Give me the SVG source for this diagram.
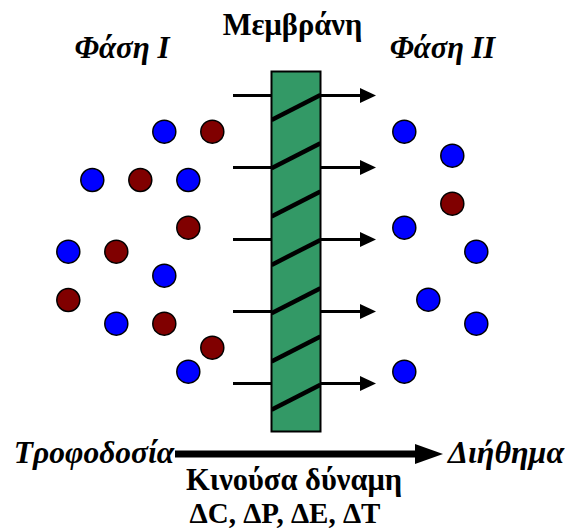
<svg xmlns="http://www.w3.org/2000/svg" width="565" height="530" viewBox="0 0 565 530">
<style>
.b{fill:#0000ff;stroke:#000;stroke-width:1.5}
.r{fill:#800000;stroke:#000;stroke-width:1.5}
.flow{stroke:#000;stroke-width:3;fill:none}
.stripe{stroke:#000;stroke-width:4.5}
text{font-family:"Liberation Serif","Times New Roman",serif;font-weight:bold;fill:#000;text-anchor:middle}
.i{font-style:italic}
</style>
<defs>
<clipPath id="mclip"><rect x="271.5" y="71.5" width="49" height="360"/></clipPath>
</defs>
<g id="labels">
<text x="292.5" y="35" font-size="30.5">Μεμβράνη</text>
<text class="i" x="122" y="58" font-size="31">Φάση Ι</text>
<text class="i" x="442.5" y="58" font-size="30.5">Φάση ΙΙ</text>
<text class="i" x="94" y="463" font-size="31.5">Τροφοδοσία</text>
<text class="i" x="506" y="463" font-size="32">Διήθημα</text>
<text x="294" y="490" font-size="30.5">Κινούσα δύναμη</text>
<text x="285" y="523" font-size="29">ΔC, ΔP, ΔE, ΔT</text>
</g>
<g id="connectors">
<line class="flow" x1="233" y1="95.5" x2="362" y2="95.5"/>
<line class="flow" x1="233" y1="167.5" x2="362" y2="167.5"/>
<line class="flow" x1="233" y1="239.5" x2="362" y2="239.5"/>
<line class="flow" x1="233" y1="311.5" x2="362" y2="311.5"/>
<line class="flow" x1="233" y1="383.5" x2="362" y2="383.5"/>
<polygon points="360,88 376,95.5 360,103"/>
<polygon points="360,160 376,167.5 360,175"/>
<polygon points="360,232 376,239.5 360,247"/>
<polygon points="360,304 376,311.5 360,319"/>
<polygon points="360,376 376,383.5 360,391"/>
<line x1="175" y1="454" x2="418" y2="454" stroke="#000" stroke-width="7"/>
<polygon points="415,444 443,454 415,464"/>
</g>
<g id="membrane">
<rect x="271.5" y="71.5" width="49" height="360" fill="#339966" stroke="none"/>
<g clip-path="url(#mclip)">
<line class="stripe" x1="271.5" y1="120" x2="320.5" y2="95"/>
<line class="stripe" x1="271.5" y1="168.3" x2="320.5" y2="143.3"/>
<line class="stripe" x1="271.5" y1="216.6" x2="320.5" y2="191.6"/>
<line class="stripe" x1="271.5" y1="264.9" x2="320.5" y2="239.9"/>
<line class="stripe" x1="271.5" y1="313.2" x2="320.5" y2="288.2"/>
<line class="stripe" x1="271.5" y1="361.5" x2="320.5" y2="336.5"/>
<line class="stripe" x1="271.5" y1="409.8" x2="320.5" y2="384.8"/>
</g>
<rect x="271.5" y="71.5" width="49" height="360" fill="none" stroke="#000" stroke-width="2"/>
</g>
<g id="phase1">
<circle class="b" cx="164.3" cy="131.7" r="11.5"/>
<circle class="r" cx="212.3" cy="131.7" r="11.5"/>
<circle class="b" cx="92.3" cy="180" r="11.5"/>
<circle class="r" cx="140.3" cy="180" r="11.5"/>
<circle class="b" cx="188.3" cy="180" r="11.5"/>
<circle class="r" cx="188.3" cy="227.7" r="11.5"/>
<circle class="b" cx="68.3" cy="251.7" r="11.5"/>
<circle class="r" cx="116.3" cy="251.7" r="11.5"/>
<circle class="b" cx="164.3" cy="275.7" r="11.5"/>
<circle class="r" cx="68.3" cy="300" r="11.5"/>
<circle class="b" cx="116.3" cy="323.7" r="11.5"/>
<circle class="r" cx="164.3" cy="323.7" r="11.5"/>
<circle class="r" cx="212.3" cy="347.7" r="11.5"/>
<circle class="b" cx="188.3" cy="371.7" r="11.5"/>
</g>
<g id="phase2">
<circle class="b" cx="404.3" cy="131.7" r="11.5"/>
<circle class="b" cx="452.3" cy="155.7" r="11.5"/>
<circle class="r" cx="452.3" cy="203.7" r="11.5"/>
<circle class="b" cx="404.3" cy="227.7" r="11.5"/>
<circle class="b" cx="476.3" cy="251.7" r="11.5"/>
<circle class="b" cx="428.3" cy="299.7" r="11.5"/>
<circle class="b" cx="476.3" cy="323.7" r="11.5"/>
<circle class="b" cx="404.3" cy="371.7" r="11.5"/>
</g>
</svg>
